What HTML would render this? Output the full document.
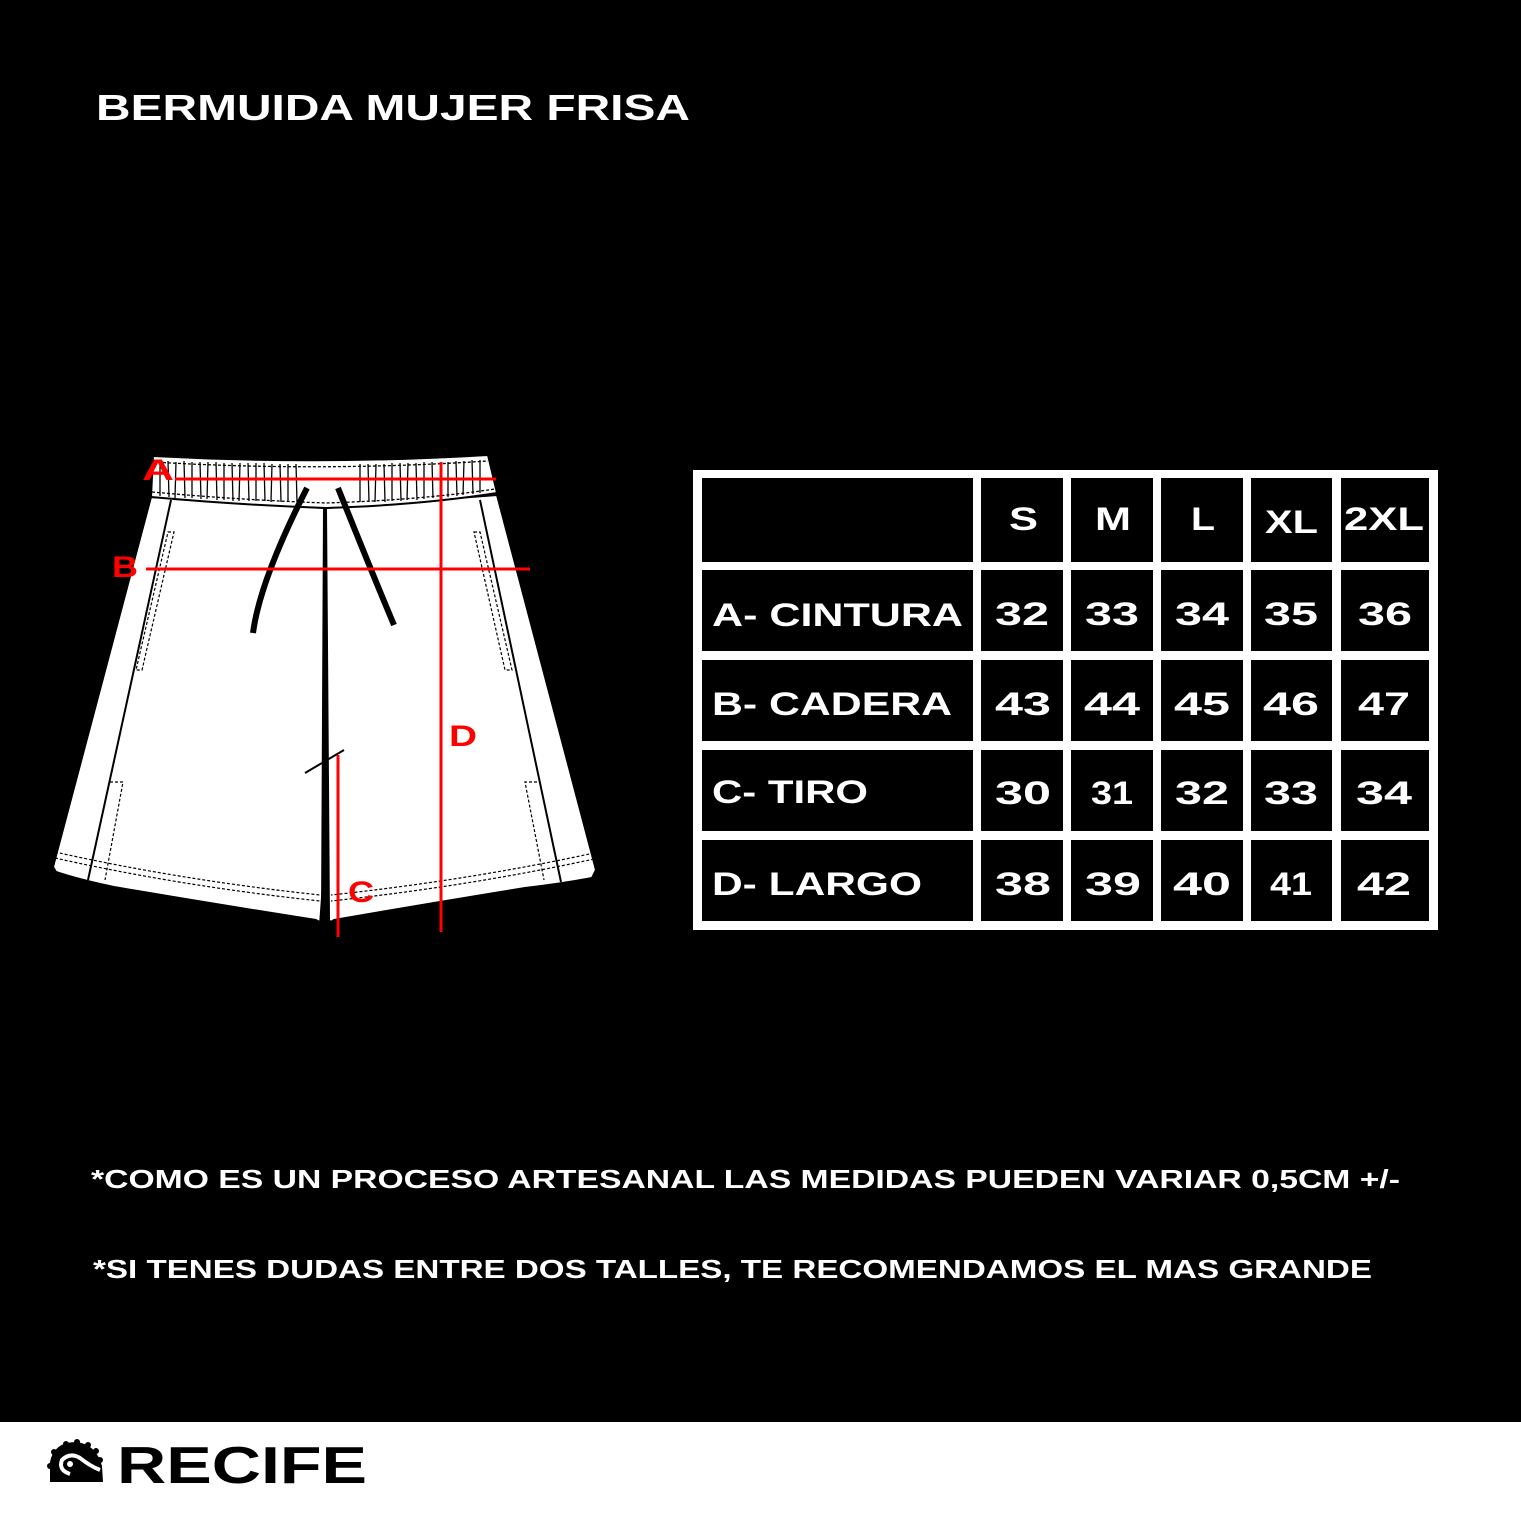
<!DOCTYPE html>
<html><head><meta charset="utf-8"><style>
html,body{margin:0;padding:0;background:#000;}
svg{display:block;}
text{font-family:"Liberation Sans",sans-serif;font-weight:bold;}
</style></head><body>
<svg width="1521" height="1513" viewBox="0 0 1521 1513" xmlns="http://www.w3.org/2000/svg">
<rect width="1521" height="1513" fill="#000"/>
<rect x="0" y="1422" width="1521" height="91" fill="#fff"/>
<text x="96" y="120" fill="#fff" font-size="36" textLength="594" lengthAdjust="spacingAndGlyphs">BERMUIDA MUJER FRISA</text>

<!-- shorts -->
<g stroke="#000" stroke-width="2" fill="#fff">
<path d="M151,497 L53,867 L56,872 Q80,880 114,887 Q220,905 316,920 Q320,923 322,920 L324,508 Z"/>
<path d="M497,495 L596,870 L592,878 Q560,884 525,888 Q420,905 334,920 Q330,923 329,920 L326,508 Z"/>
<path d="M153,456 Q320,465 488,455 L497,493 Q420,505 326,508 Q240,505 151,497 Z"/>
</g>
<!-- waistband gathers -->
<g stroke="#000" stroke-width="1.3" fill="none">
<path d="M160,462 l0,34 M168,461 l1,36 M176,462 l-1,36 M184,461 l1,37 M192,462 l0,36 M200,462 l1,37 M208,462 l-1,37 M216,462 l1,38 M224,463 l0,37 M232,463 l1,38 M240,463 l-1,38 M248,463 l1,38 M256,463 l0,38 M264,463 l1,38 M272,464 l-1,38 M280,464 l1,38 M288,464 l0,38 M296,464 l1,38 M360,464 l0,38 M368,464 l1,38 M376,464 l-1,38 M384,464 l1,38 M392,463 l0,38 M400,463 l1,38 M408,463 l-1,37 M416,463 l1,37 M424,462 l0,37 M432,462 l1,36 M448,462 l0,35 M456,461 l1,35 M464,461 l-1,34 M472,460 l1,34 M480,460 l0,33"/>
<path d="M153,462 Q320,472 488,461" stroke-dasharray="3,2"/>
<path d="M152,492 Q240,500 326,503 Q420,500 495,489" stroke-dasharray="3,2"/>
</g>
<!-- seams -->
<g stroke="#000" fill="none">
<path d="M171,500 L88,880" stroke-width="2"/>
<path d="M480,500 L561,882" stroke-width="2"/>
<path d="M324,508 L323,880 L320,922 L328,922 L326,508" fill="#000" stroke-width="1.5"/>
<path d="M168,532 L174,532 L142,670 L136,670 Z" stroke-width="1.2" stroke-dasharray="3,2"/>
<path d="M474,532 L480,532 L512,670 L505,670 Z" stroke-width="1.2" stroke-dasharray="3,2"/>
<path d="M110,782 L123,782 L105,880" stroke-width="1.2" stroke-dasharray="3,2"/>
<path d="M537,782 L525,782 L544,880" stroke-width="1.2" stroke-dasharray="3,2"/>
<path d="M55,852 Q180,880 320,895" stroke-width="1.2" stroke-dasharray="3,2"/>
<path d="M55,858 Q180,886 320,901" stroke-width="1.2" stroke-dasharray="3,2"/>
<path d="M594,853 Q470,880 331,895" stroke-width="1.2" stroke-dasharray="3,2"/>
<path d="M594,859 Q470,886 331,901" stroke-width="1.2" stroke-dasharray="3,2"/>
<path d="M305,773 L344,750" stroke-width="2"/>
<path d="M307,488 Q260,580 253,633" stroke-width="6"/>
<path d="M338,488 Q375,580 394,625" stroke-width="6"/>
</g>
<!-- red measurements -->
<g stroke="#f00" stroke-width="3">
<line x1="175" y1="479" x2="496" y2="479"/>
<line x1="146" y1="569" x2="530" y2="569"/>
<line x1="441" y1="462" x2="441" y2="932"/>
<line x1="338" y1="755" x2="338" y2="937"/>
</g>
<g fill="#f00" font-size="30">
<text x="142" y="480" textLength="32" lengthAdjust="spacingAndGlyphs">A</text>
<text x="112" y="577" textLength="26" lengthAdjust="spacingAndGlyphs">B</text>
<text x="449" y="746" textLength="28" lengthAdjust="spacingAndGlyphs">D</text>
<text x="348" y="902" textLength="26" lengthAdjust="spacingAndGlyphs">C</text>
</g>

<!-- table -->
<rect x="693" y="470" width="745" height="460" fill="#fff"/>
<g fill="#000">
<rect x="702" y="478" width="271" height="84"/><rect x="981" y="478" width="82" height="84"/><rect x="1071" y="478" width="82" height="84"/><rect x="1161" y="478" width="82" height="84"/><rect x="1251" y="478" width="81" height="84"/><rect x="1341" y="478" width="88" height="84"/>
<rect x="702" y="570" width="271" height="81"/><rect x="981" y="570" width="82" height="81"/><rect x="1071" y="570" width="82" height="81"/><rect x="1161" y="570" width="82" height="81"/><rect x="1251" y="570" width="81" height="81"/><rect x="1341" y="570" width="88" height="81"/>
<rect x="702" y="660" width="271" height="81"/><rect x="981" y="660" width="82" height="81"/><rect x="1071" y="660" width="82" height="81"/><rect x="1161" y="660" width="82" height="81"/><rect x="1251" y="660" width="81" height="81"/><rect x="1341" y="660" width="88" height="81"/>
<rect x="702" y="750" width="271" height="81"/><rect x="981" y="750" width="82" height="81"/><rect x="1071" y="750" width="82" height="81"/><rect x="1161" y="750" width="82" height="81"/><rect x="1251" y="750" width="81" height="81"/><rect x="1341" y="750" width="88" height="81"/>
<rect x="702" y="840" width="271" height="81"/><rect x="981" y="840" width="82" height="81"/><rect x="1071" y="840" width="82" height="81"/><rect x="1161" y="840" width="82" height="81"/><rect x="1251" y="840" width="81" height="81"/><rect x="1341" y="840" width="88" height="81"/>
</g>
<g fill="#fff" font-size="32">
<text x="1009" y="530" textLength="29" lengthAdjust="spacingAndGlyphs">S</text>
<text x="1095" y="530" textLength="36" lengthAdjust="spacingAndGlyphs">M</text>
<text x="1191" y="530" textLength="24" lengthAdjust="spacingAndGlyphs">L</text>
<text x="1265" y="533" textLength="53" lengthAdjust="spacingAndGlyphs">XL</text>
<text x="1344" y="530" textLength="80" lengthAdjust="spacingAndGlyphs">2XL</text>

<text x="712" y="626" textLength="251" lengthAdjust="spacingAndGlyphs">A- CINTURA</text>
<text x="712" y="715" textLength="240" lengthAdjust="spacingAndGlyphs">B- CADERA</text>
<text x="712" y="803" textLength="156" lengthAdjust="spacingAndGlyphs">C- TIRO</text>
<text x="712" y="895" textLength="210" lengthAdjust="spacingAndGlyphs">D- LARGO</text>
</g>
<g fill="#fff" font-size="32">
<text x="995" y="625" textLength="54" lengthAdjust="spacingAndGlyphs">32</text><text x="1085" y="625" textLength="54" lengthAdjust="spacingAndGlyphs">33</text><text x="1175" y="625" textLength="54" lengthAdjust="spacingAndGlyphs">34</text><text x="1264" y="625" textLength="54" lengthAdjust="spacingAndGlyphs">35</text><text x="1358" y="625" textLength="54" lengthAdjust="spacingAndGlyphs">36</text>
<text x="995" y="715" textLength="56" lengthAdjust="spacingAndGlyphs">43</text><text x="1084" y="715" textLength="56" lengthAdjust="spacingAndGlyphs">44</text><text x="1174" y="715" textLength="56" lengthAdjust="spacingAndGlyphs">45</text><text x="1263" y="715" textLength="56" lengthAdjust="spacingAndGlyphs">46</text><text x="1358" y="715" textLength="52" lengthAdjust="spacingAndGlyphs">47</text>
<text x="995" y="804" textLength="56" lengthAdjust="spacingAndGlyphs">30</text><text x="1091" y="804" textLength="42" lengthAdjust="spacingAndGlyphs">31</text><text x="1175" y="804" textLength="54" lengthAdjust="spacingAndGlyphs">32</text><text x="1264" y="804" textLength="54" lengthAdjust="spacingAndGlyphs">33</text><text x="1356" y="804" textLength="56" lengthAdjust="spacingAndGlyphs">34</text>
<text x="995" y="895" textLength="56" lengthAdjust="spacingAndGlyphs">38</text><text x="1085" y="895" textLength="56" lengthAdjust="spacingAndGlyphs">39</text><text x="1173" y="895" textLength="58" lengthAdjust="spacingAndGlyphs">40</text><text x="1270" y="895" textLength="42" lengthAdjust="spacingAndGlyphs">41</text><text x="1357" y="895" textLength="54" lengthAdjust="spacingAndGlyphs">42</text>
</g>

<g fill="#fff" font-size="26">
<text x="91" y="1188" textLength="1309" lengthAdjust="spacingAndGlyphs">*COMO ES UN PROCESO ARTESANAL LAS MEDIDAS PUEDEN VARIAR 0,5CM +/-</text>
<text x="93" y="1278" textLength="1279" lengthAdjust="spacingAndGlyphs">*SI TENES DUDAS ENTRE DOS TALLES, TE RECOMENDAMOS EL MAS GRANDE</text>
</g>

<!-- logo -->
<g fill="#000">
<path d="M50,1482 L50,1462 Q54,1442 76,1442 Q96,1444 102,1466 L103,1482 Z"/>
<circle cx="66" cy="1444" r="3"/><circle cx="77" cy="1442" r="3"/><circle cx="88" cy="1445" r="3"/><circle cx="96" cy="1451" r="3"/><circle cx="100" cy="1460" r="3"/><circle cx="54" cy="1452" r="3"/><circle cx="50" cy="1466" r="3"/>
</g>
<path d="M70,1474 Q58,1470 62,1460 Q70,1452 80,1458 Q90,1466 100,1470" fill="none" stroke="#fff" stroke-width="4"/>
<circle cx="70" cy="1464" r="3" fill="#fff"/>
<text x="117" y="1483" fill="#000" font-size="52" textLength="250" lengthAdjust="spacingAndGlyphs">RECIFE</text>
</svg>
</body></html>
